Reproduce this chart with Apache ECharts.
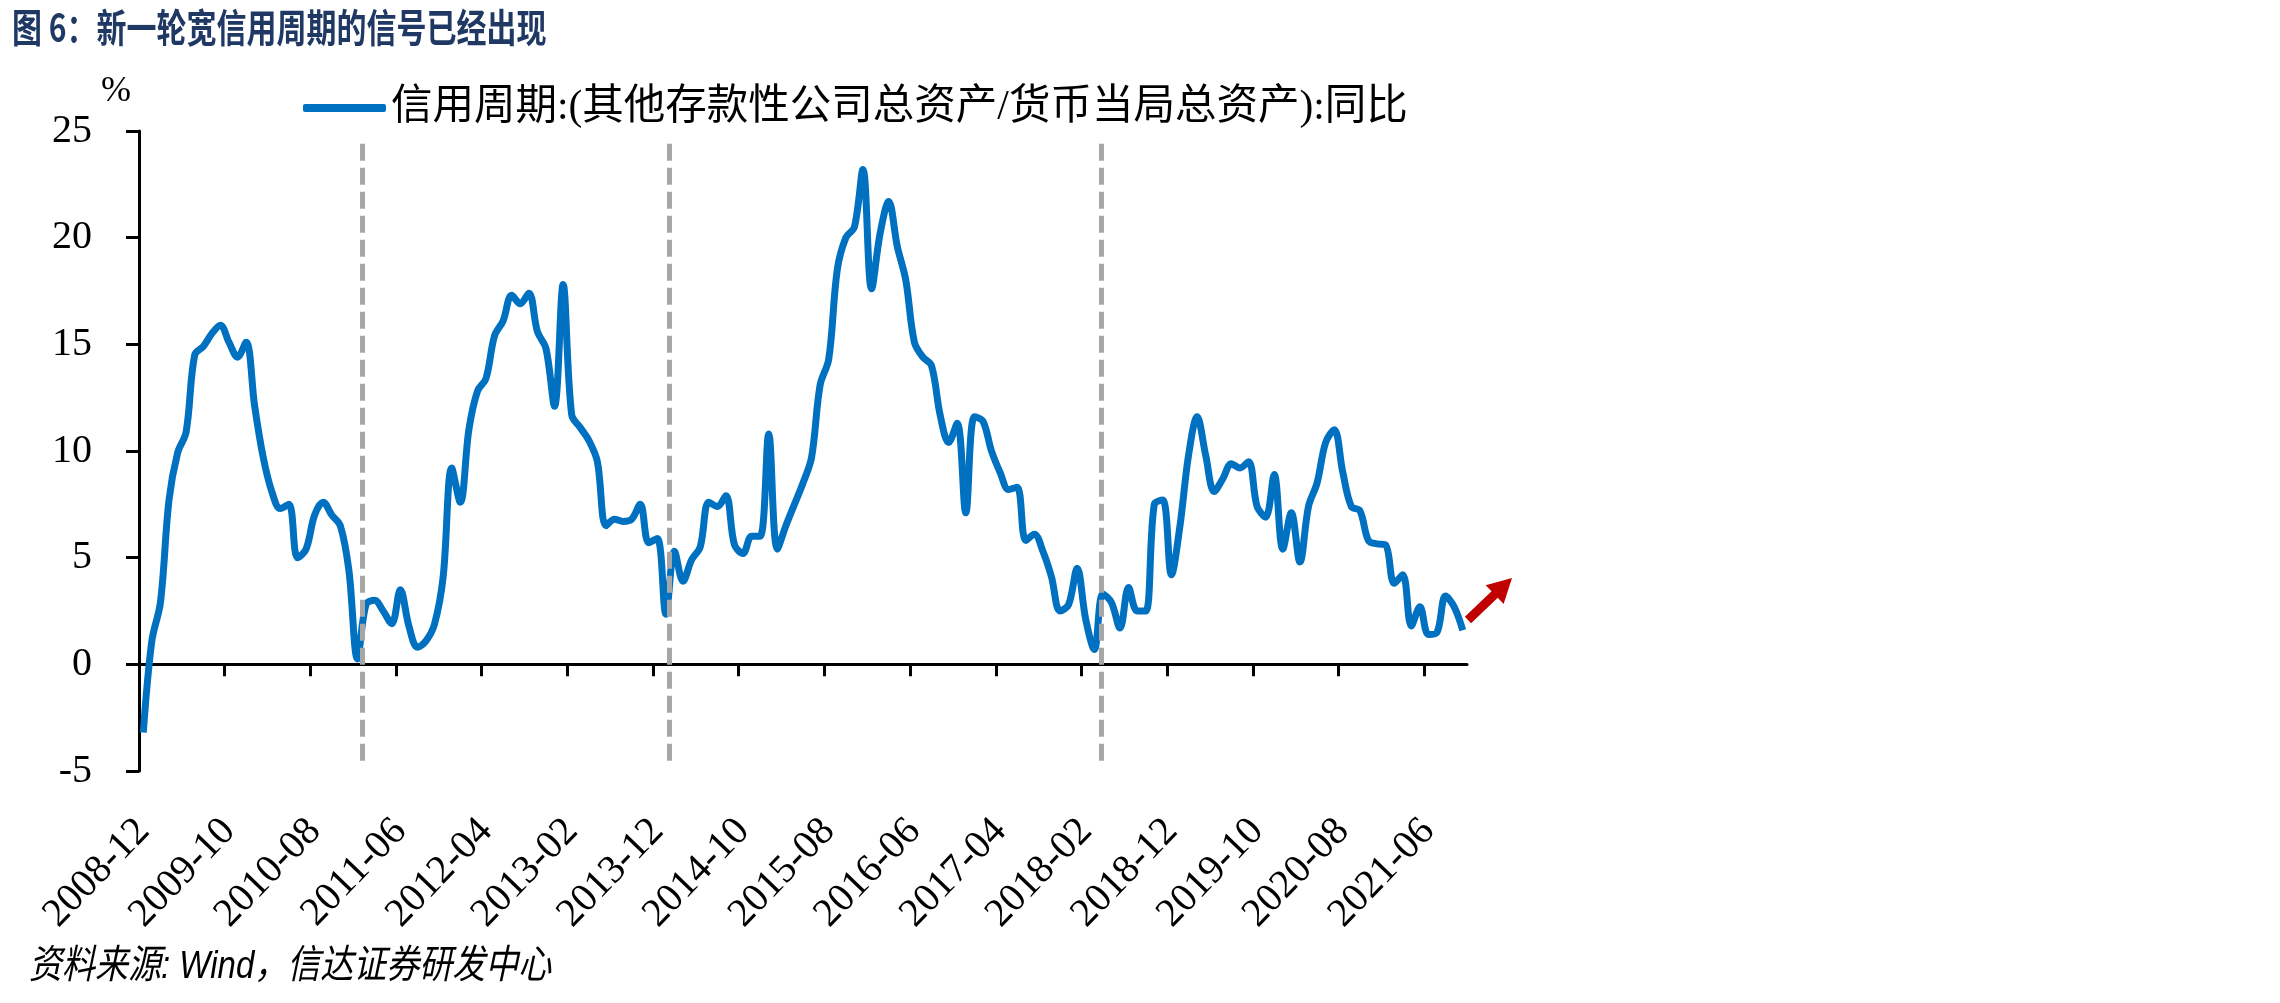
<!DOCTYPE html>
<html>
<head>
<meta charset="utf-8">
<script src="https://cdn.jsdelivr.net/npm/echarts@6/dist/echarts.min.js"></script>
<style>
html,body{margin:0;padding:0;background:#fff;}
#chart{width:2280px;height:1003px;}
</style>
</head>
<body>
<div id="chart"></div>
<script>
// ---- data ----
const titleText = '图 6：新一轮宽信用周期的信号已经出现';
const seriesName = '信用周期:(其他存款性公司总资产/货币当局总资产):同比';
const sourceText = '资料来源: Wind，信达证券研发中心';
const unitText = '%';
const startYear = 2008, startMonth = 12;
const creditCycle = [
  -3.2, 1.1, 2.9, 7.7, 9.9, 10.9, 14.5, 14.9, 15.5, 15.9,
  15.1, 14.4, 15.1, 12.1, 9.7, 8.1, 7.3, 7.5, 5.0, 5.4,
  7.0, 7.6, 7.0, 6.5, 4.4, 0.25, 2.8, 3.0, 2.5, 1.9,
  3.5, 1.8, 0.8, 1.1, 1.9, 4.1, 9.2, 7.6, 11.0, 12.8,
  13.4, 15.4, 16.1, 17.3, 16.9, 17.4, 15.6, 14.8, 12.1, 17.8,
  11.7, 11.1, 10.5, 9.5, 6.5, 6.8, 6.7, 6.8, 7.5, 5.7,
  5.9, 2.35, 5.3, 3.9, 4.9, 5.5, 7.6, 7.4, 7.9, 5.6,
  5.2, 6.0, 6.0, 10.8, 5.4, 6.5, 7.5, 8.5, 9.7, 13.1,
  14.3, 18.5, 20.0, 20.5, 23.2, 17.6, 20.2, 21.7, 19.6, 18.0,
  15.1, 14.4, 14.0, 11.7, 10.4, 11.3, 7.1, 11.6, 11.4, 10.0,
  9.0, 8.2, 8.3, 5.8, 6.1, 5.3, 4.1, 2.5, 2.8, 4.5,
  2.1, 0.7, 3.3, 2.9, 1.7, 3.6, 2.5, 2.5, 7.5, 7.7,
  4.2, 6.5, 9.8, 11.6, 9.8, 8.1, 8.7, 9.4, 9.2, 9.5,
  7.4, 6.9, 8.9, 5.4, 7.1, 4.8, 7.4, 8.5, 10.4, 11.0,
  9.0, 7.4, 7.2, 5.8, 5.65, 5.6, 3.8, 4.2, 1.8, 2.7,
  1.4, 1.5, 3.2, 2.7, 1.6
];
const categories = creditCycle.map((_, i) => {
  const m = startMonth - 1 + i;
  const y = startYear + Math.floor(m / 12);
  return y + '-' + String(m % 12 + 1).padStart(2, '0');
});
const cycleMarks = [25.6, 61.4, 111.8];   // category positions of dashed cycle lines
const markRange = [24.4, -4.6];
const labelEvery = 10;

// ---- chart ----
const chart = echarts.init(document.getElementById('chart'), null, {renderer: 'canvas'});
const N = categories.length;
const tickVals = [];
for (let b = labelEvery; b < N; b += labelEvery) tickVals.push(b - 0.5);

const serif = '"Liberation Serif", "Times New Roman", "Noto Sans CJK SC", serif';

function arrowPts(t, p, shaftHalf, headLen, headHalf) {
  const dx = p[0] - t[0], dy = p[1] - t[1];
  const L = Math.hypot(dx, dy);
  const ux = dx / L, uy = dy / L, nx = -uy, ny = ux;
  const b = [p[0] - ux * headLen, p[1] - uy * headLen];
  return [
    [t[0] + nx * shaftHalf, t[1] + ny * shaftHalf],
    [b[0] + nx * shaftHalf, b[1] + ny * shaftHalf],
    [b[0] + nx * headHalf, b[1] + ny * headHalf],
    p,
    [b[0] - nx * headHalf, b[1] - ny * headHalf],
    [b[0] - nx * shaftHalf, b[1] - ny * shaftHalf],
    [t[0] - nx * shaftHalf, t[1] - ny * shaftHalf]
  ];
}

const option = {
  backgroundColor: '#fff',
  animation: false,
  grid: {left: 139, right: 813, top: 131, bottom: 232, containLabel: false},
  legend: {
    data: [seriesName],
    left: 298, top: 80,
    icon: 'roundRect',
    itemWidth: 83, itemHeight: 8,
    textStyle: {fontSize: 41.5, fontFamily: serif, color: '#000', lineHeight: 46}
  },
  xAxis: [{
    type: 'category',
    data: categories,
    boundaryGap: true,
    position: 'bottom',
    axisLine: {show: false, onZero: false},
    axisTick: {show: false},
    axisLabel: {
      interval: labelEvery - 1,
      rotate: 46,
      margin: 54,
      fontSize: 40,
      fontFamily: serif,
      color: '#000'
    },
    splitLine: {show: false}
  }, {
    type: 'value',
    min: -0.5, max: N - 0.5,
    position: 'bottom',
    axisLine: {show: true, onZero: true, lineStyle: {color: '#000', width: 3}},
    axisTick: {show: true, customValues: tickVals, length: 12, lineStyle: {color: '#000', width: 3}},
    axisLabel: {show: false},
    splitLine: {show: false}
  }],
  yAxis: {
    type: 'value',
    min: -5, max: 25, interval: 5,
    axisLine: {show: true, onZero: false, lineStyle: {color: '#000', width: 3}},
    axisTick: {show: true, length: 13, lineStyle: {color: '#000', width: 3}},
    axisLabel: {margin: 47, fontSize: 40, fontFamily: serif, color: '#000'},
    splitLine: {show: false}
  },
  series: [{
    name: seriesName,
    type: 'line',
    xAxisIndex: 0,
    data: creditCycle,
    smooth: 0.35,
    symbol: 'none',
    z: 2,
    lineStyle: {color: '#0070C0', width: 7},
    itemStyle: {color: '#0070C0'}
  }, {
    name: 'cycle',
    type: 'line',
    xAxisIndex: 1,
    data: [],
    z: 3,
    markLine: {
      silent: true,
      symbol: 'none',
      label: {show: false},
      lineStyle: {color: '#A6A6A6', width: 5, type: [17, 7]},
      data: cycleMarks.map(x => [{coord: [x, markRange[0]]}, {coord: [x, markRange[1]]}])
    }
  }],
  graphic: [
    {type: 'text', x: 12, y: 27, scaleY: 1.3, style: {text: titleText, fill: '#1F3864', font: 'bold 30px "Noto Sans CJK SC", "Liberation Sans"', verticalAlign: 'middle'}},
    {type: 'text', x: 116, y: 92, style: {text: unitText, fill: '#000', font: '36px ' + serif, align: 'center', verticalAlign: 'middle'}},
    {type: 'text', x: 29, y: 967, scaleY: 1.2, style: {text: sourceText, fill: '#000', font: 'italic 33px "Liberation Sans", "Noto Sans CJK SC"', verticalAlign: 'middle'}},
    {type: 'polygon', shape: {points: arrowPts([1468, 620], [1512, 578], 4.5, 24, 13)}, style: {fill: '#C00000'}}
  ]
};
chart.setOption(option);
</script>
</body>
</html>
